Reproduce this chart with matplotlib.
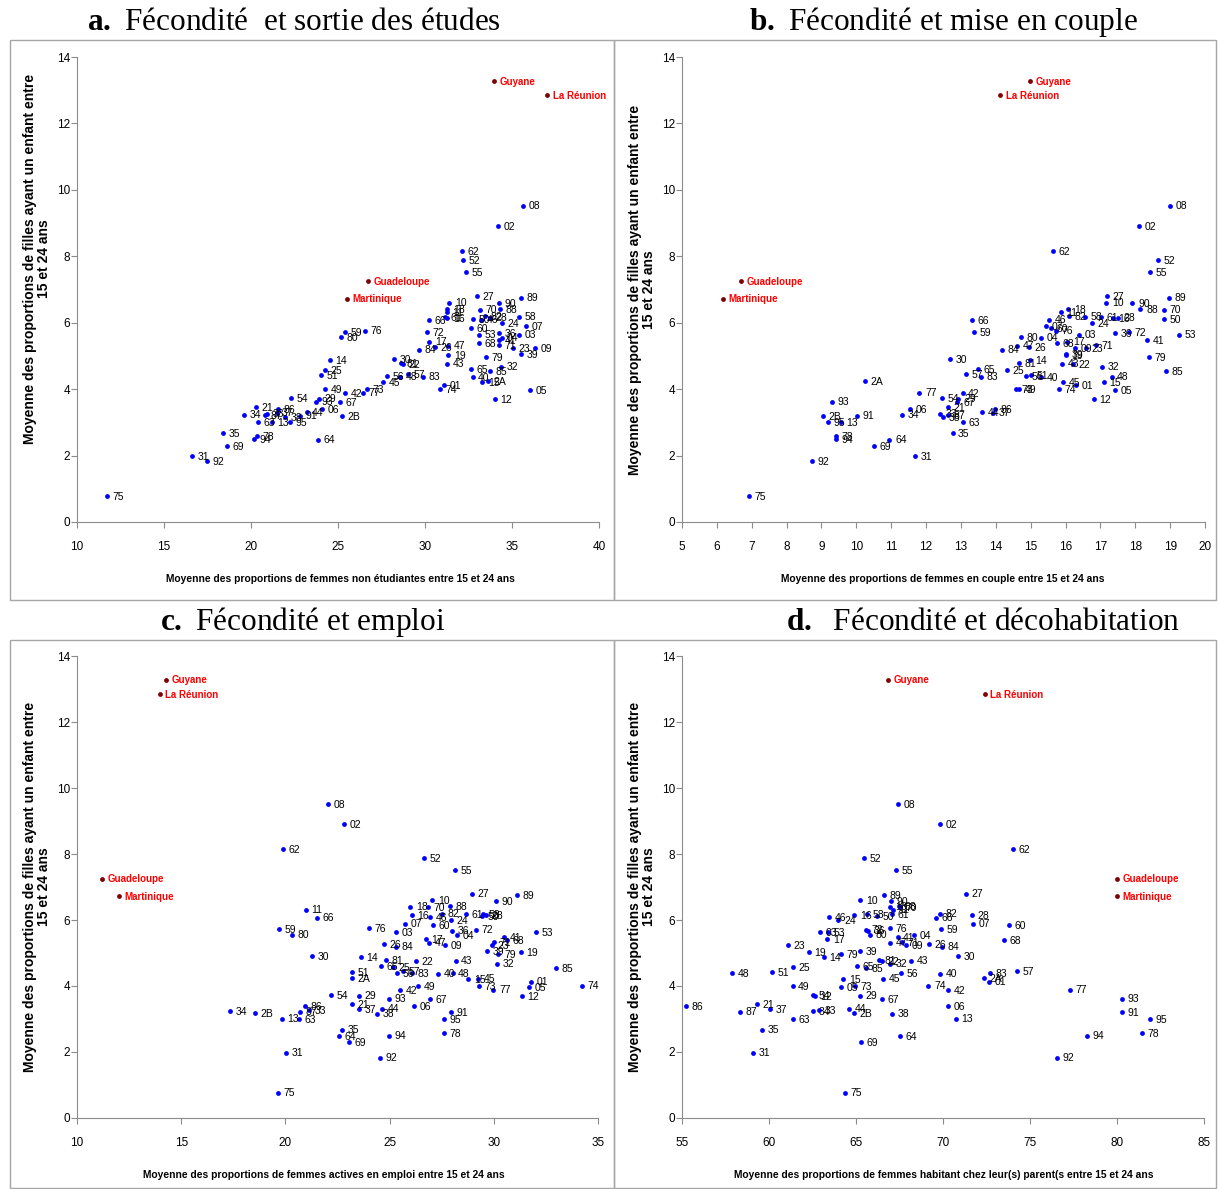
import matplotlib
matplotlib.use("Agg")
import matplotlib.pyplot as plt
from matplotlib.patches import Rectangle

# Départements de France métropolitaine
codes = ['01', '02', '03', '04', '05', '06', '07', '08', '09', '10',
         '11', '12', '13', '14', '15', '16', '17', '18', '19',
         '2A', '2B',
         '21', '22', '23', '24', '25', '26', '27', '28', '29', '30',
         '31', '32', '33', '34', '35', '36', '37', '38', '39', '40',
         '41', '42', '43', '44', '45', '46', '47', '48', '49', '50',
         '51', '52', '53', '54', '55', '56', '57', '58', '59', '60',
         '61', '62', '63', '64', '65', '66', '67', '68', '69', '70',
         '71', '72', '73', '74', '75', '76', '77', '78', '79', '80',
         '81', '82', '83', '84', '85', '86', '87', '88', '89', '90',
         '91', '92', '93', '94', '95']

# proportion de filles ayant un enfant entre 15 et 24 ans
fertility = [4.13, 8.90, 5.64, 5.55, 3.97, 3.39, 5.89, 9.52, 5.24, 6.60,
             6.31, 3.69, 3.01, 4.87, 4.21, 6.14, 5.43, 6.40, 5.03,
             4.24, 3.18,
             3.45, 4.76, 5.24, 5.99, 4.58, 5.26, 6.80, 6.15, 3.71, 4.91,
             1.98, 4.68, 3.26, 3.23, 2.68, 5.68, 3.29, 3.16, 5.05, 4.37,
             5.48, 3.87, 4.77, 3.31, 4.22, 6.09, 5.31, 4.38, 4.00, 6.11,
             4.43, 7.88, 5.64, 3.73, 7.52, 4.39, 4.45, 6.18, 5.72, 5.84,
             6.17, 8.15, 3.00, 2.48, 4.60, 6.07, 3.61, 5.38, 2.29, 6.39,
             5.32, 5.71, 4.00, 4.01, 0.77, 5.76, 3.89, 2.58, 4.96, 5.56,
             4.79, 6.19, 4.38, 5.19, 4.54, 3.39, 3.22, 6.41, 6.75, 6.58,
             3.20, 1.83, 3.62, 2.50, 3.00]

non_students = [31.11, 34.22, 35.42, 34.40, 36.05, 24.06, 35.80, 35.63, 36.30, 31.40,
                31.25, 34.02, 21.19, 24.54, 33.30, 31.29, 30.25, 31.29, 31.34,
                33.64, 25.25,
                20.29, 28.71, 35.03, 34.44, 24.27, 30.57, 33.01, 33.74, 23.89, 28.24,
                16.61, 34.35, 20.90, 19.62, 18.41, 34.25, 21.47, 21.95, 35.52, 32.74,
                34.27, 25.42, 31.25, 23.20, 27.57, 33.22, 31.34, 28.56, 24.27, 32.74,
                24.02, 32.20, 33.10, 22.30, 32.36, 27.80, 29.04, 35.42, 25.42, 32.64,
                31.17, 32.14, 20.42, 23.85, 32.64, 30.21, 25.13, 33.12, 18.60, 33.16,
                34.25, 30.09, 26.65, 30.86, 11.72, 26.55, 26.42, 20.33, 33.52, 25.19,
                28.60, 33.45, 29.87, 29.68, 33.75, 21.57, 20.80, 34.29, 35.52, 34.25,
                22.82, 17.45, 23.74, 20.17, 22.24]

in_couple = [16.30, 18.11, 16.39, 15.29, 17.43, 11.54, 15.43, 19.01, 16.27, 17.17,
             15.86, 16.81, 9.55, 14.98, 17.10, 17.35, 16.05, 16.08, 16.01,
             10.25, 9.05,
             12.64, 16.22, 16.59, 16.75, 14.33, 14.96, 17.19, 17.51, 12.93, 12.69,
             11.68, 17.06, 12.40, 11.31, 12.76, 17.42, 13.93, 12.48, 16.01, 15.29,
             18.33, 13.05, 15.89, 13.61, 15.94, 15.52, 14.62, 17.32, 14.66, 18.83,
             15.00, 18.65, 19.26, 12.45, 18.42, 14.88, 13.14, 16.57, 13.37, 15.57,
             17.01, 15.63, 13.07, 10.95, 13.50, 13.31, 12.90, 15.75, 10.51, 18.82,
             16.87, 17.83, 14.57, 15.80, 6.92, 15.73, 11.81, 9.41, 18.40, 14.71,
             14.67, 16.11, 13.58, 14.19, 18.89, 13.98, 12.64, 18.15, 18.97, 17.92,
             10.03, 8.74, 9.31, 9.41, 9.20]

employed = [31.78, 22.81, 25.29, 28.22, 31.69, 26.17, 25.75, 22.04, 27.66, 27.05,
            20.97, 31.34, 19.84, 23.61, 28.78, 26.06, 26.75, 26.00, 31.30,
            23.21, 18.54,
            23.21, 26.27, 29.90, 27.95, 25.18, 24.71, 28.97, 29.62, 23.53, 21.30,
            20.03, 30.15, 21.15, 17.34, 22.70, 27.98, 23.54, 24.41, 29.66, 27.31,
            30.49, 25.50, 28.17, 24.65, 29.26, 26.94, 26.89, 28.02, 26.35, 29.42,
            23.18, 26.64, 32.04, 22.17, 28.14, 25.34, 25.66, 29.50, 19.71, 27.06,
            28.66, 19.90, 20.67, 22.58, 24.59, 21.53, 26.95, 30.65, 23.05, 26.86,
            30.00, 29.13, 29.30, 34.25, 19.66, 24.00, 29.98, 27.61, 30.22, 20.33,
            24.83, 27.53, 26.06, 25.29, 32.98, 20.94, 20.72, 27.90, 31.10, 30.10,
            27.93, 24.55, 24.97, 24.97, 27.62]

with_parents = [72.64, 69.83, 62.93, 68.35, 64.12, 70.31, 71.74, 67.41, 67.87, 65.25,
                67.11, 62.64, 70.75, 63.14, 64.27, 64.90, 63.35, 66.95, 62.30,
                72.37, 64.90,
                59.29, 66.48, 61.11, 63.99, 61.40, 69.18, 71.34, 71.65, 65.23, 70.88,
                59.10, 66.95, 62.87, 62.51, 59.58, 65.71, 60.06, 67.09, 65.25, 69.85,
                67.39, 70.29, 68.16, 64.60, 66.57, 63.47, 66.95, 57.86, 61.36, 66.19,
                60.16, 65.46, 63.41, 62.55, 67.28, 67.60, 74.27, 65.61, 69.90, 73.79,
                67.05, 74.00, 61.40, 67.53, 65.04, 69.60, 66.51, 73.51, 65.29, 67.53,
                67.66, 65.56, 64.94, 69.16, 64.37, 66.95, 77.30, 81.44, 64.12, 65.80,
                66.34, 69.83, 72.70, 69.93, 65.56, 55.21, 58.33, 67.45, 66.59, 67.03,
                80.29, 76.55, 80.29, 78.28, 81.90]

# Départements d'outre-mer
dom_names = ['Guadeloupe', 'Martinique', 'Guyane', 'La Réunion']
dom_fertility = [7.25, 6.72, 13.28, 12.85]
dom_non_students = [26.72, 25.53, 33.97, 37.01]
dom_in_couple = [6.69, 6.18, 14.98, 14.12]
dom_employed = [11.20, 12.02, 14.27, 13.98]
dom_with_parents = [80.00, 80.00, 66.84, 72.41]

plt.rcParams['mathtext.fontset'] = 'custom'
plt.rcParams['mathtext.rm'] = 'Liberation Serif'
plt.rcParams['mathtext.bf'] = 'Liberation Serif:bold'

SANS = 'Liberation Sans'
GREY = '#8c8c8c'
W, H = 1218, 1189

ylab = "Moyenne des proportions de filles ayant un enfant entre\n15 et 24 ans"

panels = [
    dict(box=(77, 57, 599, 522), frame=(10, 40, 614, 600),
         x=non_students, dom_x=dom_non_students, xlim=(10, 40), step=5,
         xlabel="Moyenne des proportions de femmes non étudiantes entre 15 et 24 ans",
         xlab_x=0.504, ylab_y=0.566,
         title=r"$\bf{a.}$ Fécondité  et sortie des études", title_xy=(294, 22)),
    dict(box=(682, 57, 1205, 522), frame=(614, 40, 1216, 600),
         x=in_couple, dom_x=dom_in_couple, xlim=(5, 20), step=1,
         xlabel="Moyenne des proportions de femmes en couple entre 15 et 24 ans",
         xlab_x=0.499, ylab_y=0.5,
         title=r"$\bf{b.}$ Fécondité et mise en couple", title_xy=(943, 22)),
    dict(box=(77, 656, 598, 1118), frame=(10, 640, 614, 1188),
         x=employed, dom_x=dom_employed, xlim=(10, 35), step=5,
         xlabel="Moyenne des proportions de femmes actives en emploi entre 15 et 24 ans",
         xlab_x=0.474, ylab_y=0.5,
         title=r"$\bf{c.}$ Fécondité et emploi", title_xy=(303, 622)),
    dict(box=(682, 656, 1204, 1118), frame=(614, 640, 1216, 1188),
         x=with_parents, dom_x=dom_with_parents, xlim=(55, 85), step=5,
         xlabel="Moyenne des proportions de femmes habitant chez leur(s) parent(s entre 15 et 24 ans",
         xlab_x=0.502, ylab_y=0.5,
         title=r"$\bf{d.}$  Fécondité et décohabitation", title_xy=(983, 622)),
]

fig = plt.figure(figsize=(W / 100, H / 100), dpi=100)

for p in panels:
    x0, y0, x1, y1 = p['box']
    ax = fig.add_axes([x0 / W, 1 - y1 / H, (x1 - x0) / W, (y1 - y0) / H])

    # cadre gris autour du graphique
    f0, g0, f1, g1 = p['frame']
    fig.add_artist(Rectangle((f0 / W, 1 - g1 / H), (f1 - f0) / W, (g1 - g0) / H,
                             transform=fig.transFigure, fill=False,
                             edgecolor='#a6a6a6', linewidth=1))
    fig.text(p['title_xy'][0] / W, 1 - p['title_xy'][1] / H, p['title'],
             fontfamily='Liberation Serif', fontsize=22.5, ha='center', va='center')

    ax.scatter(p['x'], fertility, s=12, color='#0000ff', linewidths=0, zorder=3)
    for c, xv, yv in zip(codes, p['x'], fertility):
        ax.annotate(c, (xv, yv), xytext=(4, -0.5), textcoords='offset points',
                    ha='left', va='center', fontsize=7.5, family=SANS)

    ax.scatter(p['dom_x'], dom_fertility, s=12, color='#7f0000', linewidths=0, zorder=3)
    for n, xv, yv in zip(dom_names, p['dom_x'], dom_fertility):
        ax.annotate(n, (xv, yv), xytext=(4, -0.5), textcoords='offset points',
                    ha='left', va='center', fontsize=7, family=SANS,
                    fontweight='bold', color='#ff0000')

    lo, hi = p['xlim']
    ax.set_xlim(lo, hi)
    ax.set_ylim(0, 14)
    ax.set_xticks(range(lo, hi + 1, p['step']))
    ax.set_yticks(range(0, 15, 2))
    for side in ('top', 'right'):
        ax.spines[side].set_visible(False)
    for side in ('left', 'bottom'):
        ax.spines[side].set_color(GREY)
    ax.tick_params(colors=GREY, length=4, direction='out', labelcolor='black',
                   labelsize=8.5)
    ax.tick_params(axis='x', pad=10)
    ax.tick_params(axis='y', pad=1)
    for lab in ax.get_xticklabels() + ax.get_yticklabels():
        lab.set_family(SANS)

    ax.set_xlabel(p['xlabel'], fontsize=7.4, fontweight='bold', family=SANS)
    ax.xaxis.set_label_coords(p['xlab_x'], -0.112)
    ax.set_ylabel(ylab, fontsize=10, fontweight='bold', family=SANS,
                  linespacing=1.0)
    ax.yaxis.set_label_coords(-0.05, p['ylab_y'])

fig.savefig('out.png', dpi=100)
